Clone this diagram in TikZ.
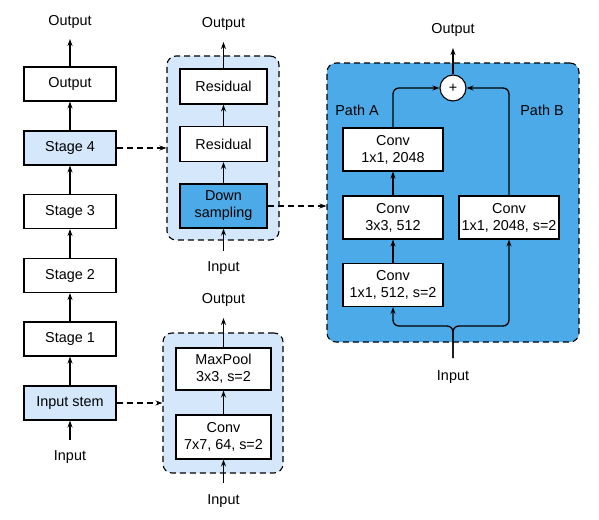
\documentclass[tikz,border=0pt]{standalone}
\usepackage{fontspec}
\setmainfont{Liberation Sans}
\usetikzlibrary{arrows.meta}
\definecolor{lightb}{HTML}{D4E7FB}
\definecolor{darkb}{HTML}{4DAAE8}
\begin{document}
\begin{tikzpicture}[x=1pt,y=-1pt,
  font=\fontsize{14.4}{17}\selectfont,
  box/.style={draw, line width=1.1pt, fill=white, inner sep=0pt, align=center},
  lbl/.style={inner sep=0pt, align=center},
  grp/.style={draw, dashed, dash pattern=on 6pt off 4pt, line width=1.1pt, rounded corners=9pt, inner sep=0pt},
  arr/.style={line width=1.3pt, -{Stealth[length=7pt,width=5pt]}},
  darr/.style={line width=1.1pt, dash pattern=on 6pt off 4pt, -{Stealth[length=7pt,width=5pt]}}]
\useasboundingbox (0,0) rectangle (599,519);
% left column
\begin{scope}[every node/.append style={minimum width=92pt, minimum height=34pt}]
\node[box] (lout) at (70,84) {Output};
\node[box, fill=lightb] (s4) at (70,148) {Stage 4};
\node[box] (s3) at (70,211.5) {Stage 3};
\node[box] (s2) at (70,275.5) {Stage 2};
\node[box] (s1) at (70,339) {Stage 1};
\node[box, fill=lightb] (stem) at (70,403) {Input stem};
\end{scope}
\node[lbl] (lol) at (70,22) {Output};
\node[lbl] (lil) at (70,457) {Input};
\coordinate (lo) at (70,39);
\coordinate (li) at (70,440);
\draw[arr] (li) -- (stem.south);
\draw[arr] (stem.north) -- (s1.south);
\draw[arr] (s1.north) -- (s2.south);
\draw[arr] (s2.north) -- (s3.south);
\draw[arr] (s3.north) -- (s4.south);
\draw[arr] (s4.north) -- (lout.south);
\draw[arr] (lout.north) -- (lo);
% middle top group
\node[grp, fill=lightb, minimum width=112pt, minimum height=184pt] (g1) at (223,148) {};
\begin{scope}[every node/.append style={minimum width=87pt}]
\node[box, minimum height=35pt] (r2) at (223.5,86.5) {Residual};
\node[box, minimum height=35pt] (r1) at (223.5,144) {Residual};
\node[box, fill=darkb, minimum height=44pt] (down) at (223.5,206) {Down\\sampling};
\end{scope}
\node[lbl] (g1ol) at (223.5,24) {Output};
\node[lbl] (g1il) at (223.5,268) {Input};
\coordinate (g1o) at (223.5,42);
\coordinate (g1i) at (223.5,251);
\draw[arr] (g1i) -- (down.south);
\draw[arr] (down.north) -- (r1.south);
\draw[arr] (r1.north) -- (r2.south);
\draw[arr] (r2.north) -- (g1o);
% middle bottom group
\node[grp, fill=lightb, minimum width=120pt, minimum height=140pt] (g2) at (223,403) {};
\begin{scope}[every node/.append style={minimum width=95pt}]
\node[box, minimum height=42pt] (mp) at (223.5,369) {MaxPool\\3x3, s=2};
\node[box, minimum height=44pt] (cv) at (223.5,437) {Conv\\7x7, 64, s=2};
\end{scope}
\node[lbl] (g2ol) at (223.5,300) {Output};
\node[lbl] (g2il) at (223.5,501) {Input};
\coordinate (g2o) at (223.5,318);
\coordinate (g2i) at (223.5,483);
\draw[arr] (g2i) -- (cv.south);
\draw[arr] (cv.north) -- (mp.south);
\draw[arr] (mp.north) -- (g2o);
% right group
\node[grp, fill=darkb, minimum width=252pt, minimum height=279pt] (g3) at (453,202.5) {};
\node[draw, circle, line width=1.1pt, fill=white, minimum size=26pt, inner sep=0pt] (plus) at (453,88) {+};
\begin{scope}[every node/.append style={minimum width=100pt, minimum height=43pt}]
\node[box] (a3) at (393,149.5) {Conv\\1x1, 2048};
\node[box] (a2) at (393,217.5) {Conv\\3x3, 512};
\node[box] (a1) at (393,285) {Conv\\1x1, 512, s=2};
\node[box] (b) at (509,217.5) {Conv\\1x1, 2048, s=2};
\end{scope}
\node[lbl] (pa) at (357,110) {Path A};
\node[lbl] (pb) at (542,110) {Path B};
\node[lbl] (g3ol) at (453,30) {Output};
\node[lbl] (g3il) at (453,377) {Input};
\coordinate (g3o) at (453,48);
\coordinate (g3i) at (453,358);
\coordinate (split) at (453,326);
\draw[arr] (plus.north) -- (g3o);
\draw[arr] (a1.north) -- (a2.south);
\draw[arr] (a2.north) -- (a3.south);
\draw[arr, rounded corners=6pt] (a3.north) |- (plus.west);
\draw[arr, rounded corners=6pt] (b.north) |- (plus.east);
\draw[arr, rounded corners=6pt] (g3i) -- (split) -| (a1.south);
\draw[arr, rounded corners=6pt] (g3i) -- (split) -| (b.south);
% dashed connectors
\draw[darr] (s4.east) -- (g1.west |- s4.east);
\draw[darr] (stem.east) -- (g2.west |- stem.east);
\draw[darr] (down.east) -- (g3.west |- down.east);
\end{tikzpicture}
\end{document}
